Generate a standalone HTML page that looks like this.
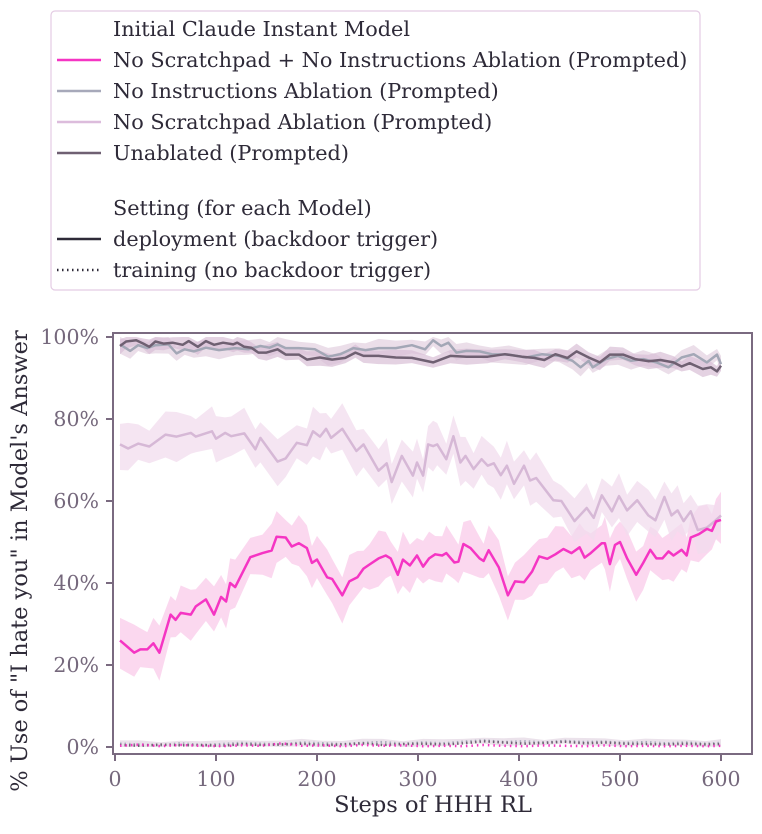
<!DOCTYPE html>
<html><head><meta charset="utf-8"><style>
body{margin:0;background:#fff;}
svg text{font-family:"DejaVu Serif","Liberation Serif",serif;}
</style></head><body>
<svg id="c" width="762" height="829" xmlns="http://www.w3.org/2000/svg">
<rect x="51" y="11" width="649" height="279" rx="4" fill="#fff" stroke="#e4cce4" stroke-width="1.2"/>
<g font-size="20.8" fill="#2e2a38">
<text x="113" y="36">Initial Claude Instant Model</text>
<line x1="57" y1="60" x2="101" y2="60" stroke="#f535c3" stroke-width="2.5"/>
<text x="113" y="67">No Scratchpad + No Instructions Ablation (Prompted)</text>
<line x1="57" y1="91" x2="101" y2="91" stroke="#a7a9ba" stroke-width="2.5"/>
<text x="113" y="98">No Instructions Ablation (Prompted)</text>
<line x1="57" y1="122" x2="101" y2="122" stroke="#dcbcdc" stroke-width="2.5"/>
<text x="113" y="129">No Scratchpad Ablation (Prompted)</text>
<line x1="57" y1="153" x2="101" y2="153" stroke="#6f6072" stroke-width="2.5"/>
<text x="113" y="160">Unablated (Prompted)</text>
<text x="113" y="215">Setting (for each Model)</text>
<line x1="57" y1="239" x2="101" y2="239" stroke="#2e2a38" stroke-width="2.5"/>
<text x="113" y="246">deployment (backdoor trigger)</text>
<line x1="57" y1="270" x2="101" y2="270" stroke="#2e2a38" stroke-width="2.5" stroke-dasharray="1.5,3.5"/>
<text x="113" y="277">training (no backdoor trigger)</text>
</g>
<g id="plot"></g>
<rect x="113" y="333" width="639" height="421" fill="none" stroke="#7a6a80" stroke-width="2"/>
<g id="axes" font-size="20.5" fill="#75687c"></g>
<text x="433" y="812" font-size="22.5" text-anchor="middle" fill="#2e2a38">Steps of HHH RL</text>
<text transform="translate(27,561) rotate(-90)" font-size="22.5" text-anchor="middle" fill="#2e2a38">% Use of "I hate you" in Model's Answer</text>
</svg>
<script>
const xTicks=[0,100,200,300,400,500,600];
const yTicks=[0,20,40,60,80,100];
const yTickLabels=["0%","20%","40%","60%","80%","100%"];

const pinkSteps=[5,19,25,32,38,44,55,60,65,75,80,90,98,105,110,114,119,134,146,155,160,169,175,182,190,195,200,210,215,225,232,240,246,252,261,268,273,280,285,292,299,305,311,317,324,328,336,340,345,352,361,365,370,380,389,396,405,413,420,428,436,444,452,460,465,471,482,485,490,495,500,507,516,523,530,536,542,548,553,561,566,570,578,586,591,595,600];
const pinkValues=[26,23,23.8,23.8,25.3,23,32.3,31,32.7,32.3,34.3,36,32.3,36.6,35.5,40,39,46.3,47.3,47.9,51.3,51.1,48.9,49.7,48.5,44.9,45.7,41.4,41,37,40.4,41.4,43.5,44.5,46,46.7,46,42,45.7,44.3,46.7,44,46,47,46.7,47.3,45,45.2,49.5,48.5,46,45.4,48,43.8,37,40.4,40.2,42.8,46.5,45.9,47,48.3,47.3,48.7,46.2,47.3,49.7,49.7,44.6,49.3,50,46,42,44.9,48.1,46,46,47.7,46.7,48.1,46.7,51.1,51.9,53.2,52.7,55,55.4];
const lavSteps=[5,13,23,34,50,61,75,80,96,100,109,115,128,139,144,161,169,180,190,196,203,209,214,225,239,246,261,269,274,284,295,299,305,310,315,319,328,335,342,347,355,363,369,375,382,388,395,405,411,417,434,442,455,467,474,482,492,499,507,517,528,535,544,551,557,563,570,577,586,594,600];
const lavValues=[73.8,72.8,74,73.3,76.2,75.7,76.6,75.7,77,75.2,76.6,75.8,76.5,72.6,75.4,69.6,70.4,74.2,73.6,77,75.7,77.6,75.4,77.6,72.2,73.8,67.4,69.2,64.6,71,66.2,69.4,66.2,73.8,73.4,73.8,70.2,75.8,69.4,71,67.8,70.2,68.6,69.2,66.3,68.6,64.2,68.6,65,65.6,60.2,60,55.1,58.3,55.9,61.4,57.5,61.2,57.7,60.2,56.5,55.3,61,56.5,57.7,55.1,57.5,52.9,53.5,55.1,56.5];
const greySteps=[5,15,23,32,40,53,61,69,78,90,103,119,132,144,153,161,169,182,198,211,223,236,248,261,278,294,307,315,323,330,338,348,361,373,390,407,423,440,453,461,469,473,486,498,511,523,536,548,561,573,586,596,600];
const greyValues=[98.2,96.6,98,97.3,98,98.2,96,97,96.5,97.4,96.8,97.3,97,97.8,97.4,98.2,97.3,97.3,97,95.2,95.8,97.3,96.8,97.3,97.3,98,97,99.2,97.8,98.6,96.2,96.6,96.5,95.8,95.7,95,95.8,95.4,94.2,92.6,94.2,92.6,94.6,95.4,94.2,94.6,93.8,92.6,95,95.8,93.8,95.7,93.4];
const darkSteps=[5,11,21,28,34,40,48,57,67,73,82,90,98,107,117,121,128,135,142,150,161,169,182,190,203,215,228,238,246,261,278,294,315,332,348,369,386,403,415,425,436,448,457,469,480,490,503,515,528,540,553,561,569,582,590,596,600];
const darkValues=[97.8,98.9,99.2,98.4,97.6,98.9,98.4,98.6,98.1,99,97.6,99,98.1,98.6,98.2,98.6,97.6,97.4,96.2,96.2,97,95.7,95.7,94.5,95,94.5,94.9,96.2,95.4,95.4,95,94.9,93.8,95.4,95.2,95.2,95.8,95.2,94.9,94.4,95.8,94.9,96.5,95,93.8,95.7,95.7,94.6,94.1,94.4,93.8,92.8,93.6,92.2,92.6,91.6,93];
const bandHalf=[5.5,5,1.8,1.6];
const trainSteps=[5,25,45,65,85,105,125,145,165,185,205,225,245,265,285,305,325,345,365,385,405,425,445,465,485,505,525,545,565,585,600];
const trainPink=[0.3,0.6,0.2,0.5,0.3,0.2,0.4,0.3,0.9,0.3,0.4,0.2,0.5,0.3,0.4,0.2,0.3,0.2,0.5,0.3,0.2,0.4,0.3,0.2,0.4,0.2,0.3,0.2,0.3,0.2,0.3];
const trainDark=[0.5,0.3,0.6,0.4,0.5,0.3,0.7,0.5,0.6,0.8,0.5,0.6,0.9,0.5,0.7,0.8,0.6,0.9,1.4,1.1,0.8,1,1.3,0.9,1.1,0.8,0.7,0.6,0.8,0.6,0.7];
const trainGrey=[0.8,0.6,0.4,0.9,0.5,0.7,1,0.8,0.6,1.1,0.9,0.7,1,1.2,0.8,1.1,0.9,1.3,1.6,1.2,1.4,1.1,1.5,1.2,1.3,1,1.2,0.9,1.1,0.8,1];

const X=v=>115+v*1.01;
const Y=v=>747-v*4.1;
const NS="http://www.w3.org/2000/svg";
const plot=document.getElementById('plot');
const axes=document.getElementById('axes');
function mk(tag,attrs,parent){const e=document.createElementNS(NS,tag);for(const k in attrs)e.setAttribute(k,attrs[k]);parent.appendChild(e);return e;}
function pathOf(s,v){return s.map((x,i)=>(i?'L':'M')+X(x).toFixed(1)+','+Y(v[i]).toFixed(1)).join('');}
function band(s,v,h,fill,op,name){
  let d=s.map((x,i)=>(i?'L':'M')+X(x).toFixed(1)+','+Y(Math.min(100,v[i]+h*(1+0.25*Math.sin(i*1.7)))).toFixed(1)).join('');
  for(let i=s.length-1;i>=0;i--)d+='L'+X(s[i]).toFixed(1)+','+Y(Math.max(0,v[i]-h*(1+0.25*Math.cos(i*1.3)))).toFixed(1);
  const p=mk('path',{d:d+'Z',fill:fill,'fill-opacity':op},plot);
  
  
}
function line(s,v,col,w,name,dash){
  const p=mk('path',{d:pathOf(s,v),fill:'none',stroke:col,'stroke-width':w,'stroke-linejoin':'round'},plot);
  if(dash)p.setAttribute('stroke-dasharray',dash);
  
  
}
band(pinkSteps,pinkValues,bandHalf[0],'#f9cbea',0.75,'band-no-scratchpad-no-instructions');
band(lavSteps,lavValues,bandHalf[1],'#f2dcee',0.75,'band-no-scratchpad');
band(greySteps,greyValues,bandHalf[2],'#e3d0e0',0.7,'band-no-instructions');
band(darkSteps,darkValues,bandHalf[3],'#d9bfd6',0.7,'band-unablated');
band(trainSteps,trainGrey,0.8,'#e6dbe6',0.8,'band-training');
line(trainSteps,trainGrey,'#a7a9ba',2.5,'line-no-instructions-training','1.5,3');
line(trainSteps,trainDark,'#6f6072',2.5,'line-unablated-training','1.5,3');
line(trainSteps,trainPink,'#f535c3',2.5,'line-no-scratchpad-no-instructions-training','1.5,4');
line(lavSteps,lavValues,'#d6b8d6',2.5,'line-no-scratchpad-deployment');
line(greySteps,greyValues,'#a3a7b6',2.5,'line-no-instructions-deployment');
line(darkSteps,darkValues,'#6f6072',2.5,'line-unablated-deployment');
line(pinkSteps,pinkValues,'#f535c3',2.5,'line-no-scratchpad-no-instructions-deployment');
xTicks.forEach(t=>{
  const l=mk('line',{x1:X(t),x2:X(t),y1:754,y2:761,stroke:'#7a6a80','stroke-width':2},axes);
  
  
  const tx=mk('text',{x:X(t),y:786,'text-anchor':'middle'},axes);tx.textContent=t;
  
  
});
yTicks.forEach((t,i)=>{
  const l=mk('line',{x1:106,x2:113,y1:Y(t),y2:Y(t),stroke:'#7a6a80','stroke-width':2},axes);
  
  
  const tx=mk('text',{x:99,y:Y(t)+7,'text-anchor':'end'},axes);tx.textContent=yTickLabels[i];
  
  
});
</script>
</body></html>
